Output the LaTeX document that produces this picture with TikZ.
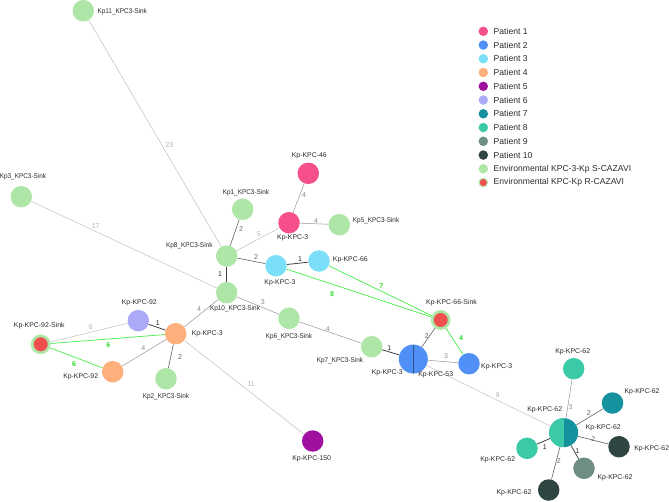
\documentclass[tikz,border=0pt]{standalone}
\usepackage{fontspec}
\setmainfont{Liberation Sans}
\definecolor{c1}{HTML}{F5508C}
\definecolor{c2}{HTML}{508FF5}
\definecolor{c3}{HTML}{7BDFFA}
\definecolor{c4}{HTML}{FDB07C}
\definecolor{c5}{HTML}{A0109E}
\definecolor{c6}{HTML}{AAAAF8}
\definecolor{c7}{HTML}{16929E}
\definecolor{c8}{HTML}{3ACAA8}
\definecolor{c9}{HTML}{6E8D85}
\definecolor{c10}{HTML}{2F4541}
\definecolor{envS}{HTML}{AEE6A8}
\definecolor{envR}{HTML}{F04F4F}
\definecolor{gedge}{HTML}{44EE44}
\definecolor{glab}{HTML}{2FD82F}
\definecolor{txt}{HTML}{2A2A2A}
\pgfdeclarelayer{bg}
\pgfsetlayers{bg,main}
\tikzset{
  nd/.style={circle, inner sep=0pt, minimum size=21.5pt, fill=#1},
  bignd/.style={circle, inner sep=0pt, minimum size=29pt, fill=#1},
  ring/.style={circle, inner sep=0pt, minimum size=17pt, fill=envR, draw=envS, line width=2.7pt},
  lab/.style={font=\fontsize{6.9}{8}\selectfont, text=txt, inner sep=0pt},
  slab/.style={font=\fontsize{6.9}{8}\selectfont, text=txt, inner sep=0pt},
  leg/.style={font=\fontsize{8.6}{10}\selectfont, text=txt, inner sep=0pt, anchor=west},
  legdot/.style={circle, inner sep=0pt, minimum size=9.5pt, fill=#1},
  w1/.style={draw=black!75, line width=0.8pt},
  w2/.style={draw=black!62, line width=0.6pt},
  w3/.style={draw=black!42, line width=0.5pt},
  w5/.style={draw=black!25, line width=0.5pt},
  wg/.style={draw=gedge, line width=0.7pt},
  e1/.style={font=\fontsize{7}{8}\selectfont, text=black!85, inner sep=0pt},
  e2/.style={font=\fontsize{7}{8}\selectfont, text=black!60, inner sep=0pt},
  e3/.style={font=\fontsize{7}{8}\selectfont, text=black!45, inner sep=0pt},
  e5/.style={font=\fontsize{7}{8}\selectfont, text=black!30, inner sep=0pt},
  eg/.style={font=\bfseries\fontsize{7}{8}\selectfont, text=glab, inner sep=0pt},
}
\newcommand{\snk}[1]{\scalebox{0.93}[1]{#1}}
\begin{document}
\begin{tikzpicture}[x=1pt,y=-1pt]
\useasboundingbox (0,0) rectangle (669,501);
% nodes
\node[nd=envS] (kp11) at (83.3,10.7) {};
\node[nd=envS] (kp3) at (21.3,196.7) {};
\node[nd=envS] (kp8) at (226.7,256) {};
\node[nd=envS] (kp1) at (242.7,209.3) {};
\node[nd=c1] (k46) at (308.3,173.3) {};
\node[nd=c1] (p1k3) at (289,222.7) {};
\node[nd=envS] (kp5) at (339.3,224.7) {};
\node[nd=c3] (c3k3) at (276,265.7) {};
\node[nd=c3] (c66) at (319,261) {};
\node[nd=envS] (kp10) at (226.7,292.7) {};
\node[nd=envS] (kp6) at (289,318.3) {};
\node[nd=envS] (kp7) at (371.7,346.7) {};
\node[bignd=c2, path picture={\draw[c2!55!black, line width=0.6pt] (path picture bounding box.north) -- (path picture bounding box.south);}] (bblue) at (413.3,359) {};
\node[ring] (s66) at (440.7,320) {};
\node[nd=c2] (sblue) at (469,363.7) {};
\node[ring] (s92) at (40.7,344.3) {};
\node[nd=c6] (lav92) at (138.3,320.7) {};
\node[nd=c4] (o3) at (175.7,333.7) {};
\node[nd=c4] (o92) at (112.7,371.7) {};
\node[nd=envS] (kp2) at (166,378.7) {};
\node[nd=c5] (k150) at (312.7,441) {};
\node[nd=c8] (t62) at (573.7,368.7) {};
\node[nd=c7] (p7) at (612.5,403) {};
\node[bignd=c7, path picture={\fill[c8] (path picture bounding box.south west) rectangle (path picture bounding box.north);}] (b62) at (563.7,432.7) {};
\node[nd=c10] (p10r) at (619,446.7) {};
\node[nd=c8] (p8l) at (527,448.3) {};
\node[nd=c9] (p9) at (584,468.3) {};
\node[nd=c10] (p10b) at (548.7,490) {};
% node labels
\node[slab, anchor=west] (lkp11) at (97.3,12) {\snk{Kp11\_KPC3-Sink}};
\node[slab] (lkp3) at (23,177) {\snk{Kp3\_KPC3-Sink}};
\node[slab] (lkp8) at (189.3,245.7) {\snk{Kp8\_KPC3-Sink}};
\node[slab] (lkp1) at (246,192.3) {\snk{Kp1\_KPC3-Sink}};
\node[lab] (lk46) at (309.3,155.7) {Kp-KPC-46};
\node[lab] (lp1k3) at (292.7,238.3) {Kp-KPC-3};
\node[slab, anchor=west] (lkp5) at (352.7,220.7) {\snk{Kp5\_KPC3-Sink}};
\node[lab, anchor=west] (lc66) at (332.7,260.3) {Kp-KPC-66};
\node[lab] (lc3k3) at (280,282.7) {Kp-KPC-3};
\node[slab] (lkp10) at (235,308.3) {\snk{Kp10\_KPC3-Sink}};
\node[slab] (lkp6) at (289,336.7) {\snk{Kp6\_KPC3-Sink}};
\node[slab] (lkp7) at (340,360.7) {\snk{Kp7\_KPC3-Sink}};
\node[lab, anchor=west] (ls66) at (426,302.7) {Kp-KPC-66-Sink};
\node[lab] (lbblue) at (387.3,372.3) {Kp-KPC-3};
\node[lab] (lbblue2) at (435.7,375) {Kp-KPC-53};
\node[lab] (lsblue) at (496.7,366.7) {Kp-KPC-3};
\node[lab] (ls92) at (39.3,325.7) {Kp-KPC-92-Sink};
\node[lab] (llav92) at (139.3,303.3) {Kp-KPC-92};
\node[lab] (lo3) at (207.3,334.3) {Kp-KPC-3};
\node[lab] (lo92) at (80.7,376.7) {Kp-KPC-92};
\node[slab] (lkp2) at (166,396.3) {\snk{Kp2\_KPC3-Sink}};
\node[lab] (lk150) at (311.7,458.3) {Kp-KPC-150};
\node[lab] (lt62) at (572.7,351.3) {Kp-KPC-62};
\node[lab] (lp7) at (642,391.7) {Kp-KPC-62};
\node[lab] (lb62) at (544.7,409.3) {Kp-KPC-62};
\node[lab] (lb62b) at (603.3,428) {Kp-KPC-62};
\node[lab] (lp10r) at (651.7,449) {Kp-KPC-62};
\node[lab] (lp8l) at (497.7,459.3) {Kp-KPC-62};
\node[lab] (lp9) at (615,478) {Kp-KPC-62};
\node[lab] (lp10b) at (514,492.3) {Kp-KPC-62};
% edges
\begin{pgfonlayer}{bg}
\draw[w5] (kp11) -- (kp8);
\draw[w5] (kp3) -- (kp10);
\draw[w2] (kp8) -- (kp1);
\draw[w5] (kp8) -- (p1k3);
\draw[w3] (p1k3) -- (k46);
\draw[w3] (p1k3) -- (kp5);
\draw[w2] (kp8) -- (c3k3);
\draw[w1] (c3k3) -- (c66);
\draw[w1] (kp8) -- (kp10);
\draw[w3] (kp10) -- (kp6);
\draw[w3] (kp10) -- (o3);
\draw[w3] (kp6) -- (kp7);
\draw[w1] (kp7) -- (bblue);
\draw[w2] (bblue) -- (s66);
\draw[w3] (bblue) -- (sblue);
\draw[w5] (bblue) -- (b62);
\draw[wg] (c3k3) -- (s66);
\draw[wg] (c66) -- (s66);
\draw[wg] (s66) -- (sblue);
\draw[w5] (s92) -- (lav92);
\draw[w1] (lav92) -- (o3);
\draw[wg] (s92) -- (o3);
\draw[wg] (s92) -- (o92);
\draw[w3] (o3) -- (o92);
\draw[w2] (o3) -- (kp2);
\draw[w5] (o3) -- (k150);
\draw[w3] (b62) -- (t62);
\draw[w2] (b62) -- (p7);
\draw[w2] (b62) -- (p10r);
\draw[w1] (b62) -- (p8l);
\draw[w1] (b62) -- (p9);
\draw[w2] (b62) -- (p10b);
\end{pgfonlayer}
% edge labels
\node[e5] (n23) at (169.3,145.3) {23};
\node[e5] (n17) at (95.7,226) {17};
\node[e2] (n2a) at (241,229.3) {2};
\node[e5] (n5) at (258.7,234) {5};
\node[e3] (n4a) at (304,195) {4};
\node[e3] (n4b) at (316,220.7) {4};
\node[e2] (n2b) at (256,256.7) {2};
\node[e1] (n1a) at (300,259.3) {1};
\node[e1] (n1b) at (220,274) {1};
\node[e3] (n3a) at (262.7,302.5) {3};
\node[e3] (n4c) at (199,309) {4};
\node[e3] (n4d) at (327.7,329.5) {4};
\node[e1] (n1c) at (389.3,348.3) {1};
\node[e2] (n2c) at (426.7,335.7) {2};
\node[e3] (n3b) at (446,355.7) {3};
\node[e5] (n9) at (497.5,395.5) {9};
\node[eg] (g4) at (461,338.3) {4};
\node[eg] (g7) at (381.3,286) {7};
\node[eg] (g8) at (332,293.7) {8};
\node[e5] (n6) at (90.7,326.7) {6};
\node[e1] (n1d) at (157.7,322.7) {1};
\node[eg] (g6a) at (108.3,345) {6};
\node[eg] (g6b) at (74,364) {6};
\node[e3] (n4e) at (143.3,347.7) {4};
\node[e2] (n2d) at (180,356.7) {2};
\node[e5] (n11) at (251,383.7) {11};
\node[e3] (n3c) at (570.5,407.3) {3};
\node[e2] (n2e) at (588.7,413.3) {2};
\node[e2] (n2f) at (593.3,439) {2};
\node[e1] (n1e) at (544.7,447.3) {1};
\node[e1] (n1f) at (577.3,451.3) {1};
\node[e2] (n2g) at (558.7,461) {2};
% legend
\node[legdot=c1] (d1) at (483.3,31.3) {};
\node[leg] (t1) at (493.5,31.3) {Patient 1};
\node[legdot=c2] (d2) at (483.3,45.05) {};
\node[leg] (t2) at (493.5,45.05) {Patient 2};
\node[legdot=c3] (d3) at (483.3,58.8) {};
\node[leg] (t3) at (493.5,58.8) {Patient 3};
\node[legdot=c4] (d4) at (483.3,72.55) {};
\node[leg] (t4) at (493.5,72.55) {Patient 4};
\node[legdot=c5] (d5) at (483.3,86.3) {};
\node[leg] (t5) at (493.5,86.3) {Patient 5};
\node[legdot=c6] (d6) at (483.3,100.05) {};
\node[leg] (t6) at (493.5,100.05) {Patient 6};
\node[legdot=c7] (d7) at (483.3,113.8) {};
\node[leg] (t7) at (493.5,113.8) {Patient 7};
\node[legdot=c8] (d8) at (483.3,127.55) {};
\node[leg] (t8) at (493.5,127.55) {Patient 8};
\node[legdot=c9] (d9) at (483.3,141.3) {};
\node[leg] (t9) at (493.5,141.3) {Patient 9};
\node[legdot=c10] (d10) at (483.3,155.05) {};
\node[leg] (t10) at (493.5,155.05) {Patient 10};
\node[legdot=envS] (d11) at (483.3,168.8) {};
\node[leg] (t11) at (493.5,168.8) {Environmental KPC-3-Kp S-CAZAVI};
\node[legdot=envR, minimum size=8.5pt, draw=envS, line width=1pt] (d12) at (483.3,182.55) {};
\node[leg] (t12) at (493.5,182.55) {Environmental KPC-Kp R-CAZAVI};
\end{tikzpicture}
\end{document}
